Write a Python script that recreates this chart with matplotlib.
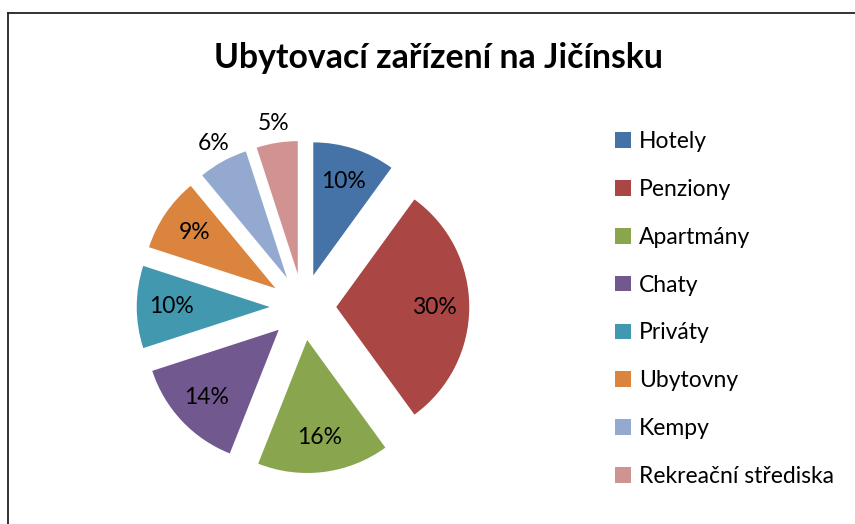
import numpy as np
import matplotlib.pyplot as plt
from matplotlib.lines import Line2D

# Data
categories = ['Hotely', 'Penziony', 'Apartmány', 'Chaty', 'Priváty',
              'Ubytovny', 'Kempy', 'Rekreační střediska']
shares = [10, 30, 16, 14, 10, 9, 6, 5]
colors = ['#4572A7', '#AA4643', '#89A54E', '#71588F', '#4198AF',
          '#DB843D', '#93A9CF', '#D19392']
title = 'Ubytovací zařízení na Jičínsku'

plt.rcParams['font.family'] = ['Lato', 'DejaVu Sans']

W, H = 855, 524
fig = plt.figure(figsize=(W / 100, H / 100), dpi=100)

# pie axes: centre ~ (303, 307) px, radius ~133 px
r_px = 133
cx, cy = 303, 307
side = 3 * r_px
ax = fig.add_axes([(cx - side / 2) / W, (H - cy - side / 2) / H, side / W, side / H])

explode = [0.25] * len(shares)
wedges, texts, autotexts = ax.pie(shares, colors=colors, explode=explode,
                                  startangle=90, counterclock=False,
                                  autopct='%1.0f%%', pctdistance=0.74,
                                  wedgeprops=dict(linewidth=0),
                                  textprops=dict(fontsize=16.5, color='black'))
# pie() resets the limits, so set them afterwards
ax.set_xlim(-1.5, 1.5)
ax.set_ylim(-1.5, 1.5)
ax.axis('off')

# small slices get their label outside, like Excel does
for w, t, v in zip(wedges, autotexts, shares):
    if v < 8:
        ang = np.deg2rad((w.theta1 + w.theta2) / 2)
        x0, y0 = w.center
        t.set_position((x0 + 1.15 * np.cos(ang), y0 + 1.15 * np.sin(ang)))

fig.text(438 / W, 1 - 58 / H, title, ha='center', va='center',
         fontsize=24.3, fontweight='bold')

fig.legend(wedges, categories, loc='upper left',
           bbox_to_anchor=(606 / W, 1 - 122 / H), frameon=False,
           fontsize=16.5, handlelength=0.68, handleheight=0.68,
           handletextpad=0.35, labelspacing=1.17, borderaxespad=0)

# chart frame (only the left and top edges fall inside the picture)
fig.add_artist(Line2D([8 / W, 8 / W], [0, 1 - 13 / H], transform=fig.transFigure,
                      color='#222222', lw=1.3))
fig.add_artist(Line2D([8 / W, 1], [1 - 13 / H, 1 - 13 / H], transform=fig.transFigure,
                      color='#222222', lw=1.3))

fig.savefig('out.png', dpi=100)
